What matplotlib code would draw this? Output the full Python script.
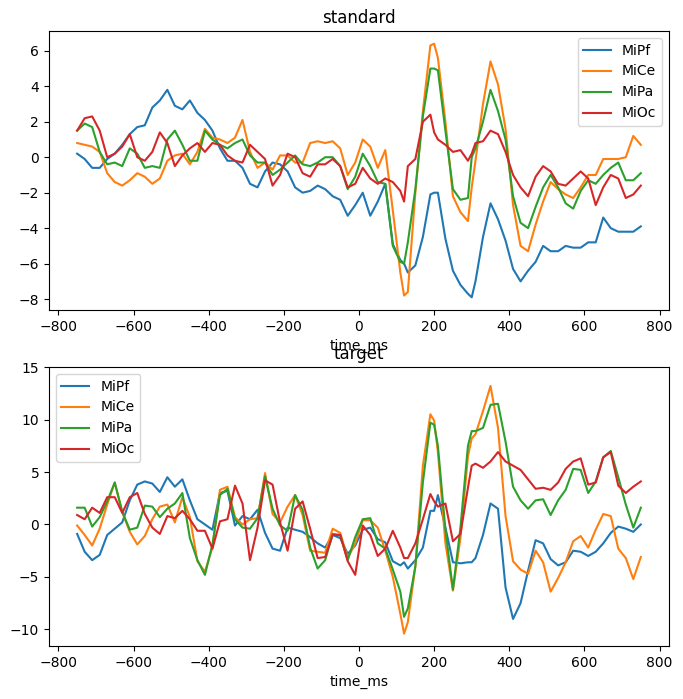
import matplotlib
matplotlib.use("Agg")
import matplotlib.pyplot as plt
import numpy as np

# sample times (ms), 20 ms steps plus a few extra samples near the big peaks
time_ms = sorted(list(range(-750, 751, 20)) + [120, 200, 300])

channels = ["MiPf", "MiCe", "MiPa", "MiOc"]

## standard condition
std_MiPf = [0.2, -0.1, -0.6, -0.6, -0.1, 0.2, 0.7, 1.3, 1.7, 1.8, 2.8, 3.2, 3.8, 2.9, 2.7, 3.2, 2.5, 2.1,
            1.5, 0.5, -0.2, -0.2, -0.6, -1.5, -1.7, -0.8, -0.3, -0.4, -0.8, -1.7, -2.0, -1.9, -1.6, -1.8, -2.2, -2.4, -3.3,
            -2.7, -2.0, -3.3, -2.5, -1.5, -4.9, -5.8, -6.0, -6.5, -6.1, -4.5, -2.1, -2.0, -2.0, -4.6, -6.4, -7.2, -7.7, -7.9, -7.0, -4.5,
            -2.6, -3.5, -4.7, -6.3, -7.0, -6.4, -5.9, -5.0, -5.3, -5.3, -5.0, -5.1, -5.1, -4.8, -4.8, -3.4, -4.0, -4.2, -4.2, -4.2, -3.9]
std_MiCe = [0.8, 0.7, 0.6, 0.3, -0.9, -1.4, -1.6, -1.3, -0.9, -1.1, -1.5, -1.2, -0.2, 0.1, 0.2, -0.4, 0.3, 1.6,
            1.1, 1.0, 0.8, 1.1, 2.1, 0.3, -0.6, -0.3, -0.7, 0.1, 0.1, -0.3, -0.3, 0.8, 0.9, 0.8, 0.9, 0.5, -1.0,
            -0.3, 1.0, 0.6, -0.6, 0.4, -3.0, -6.5, -7.8, -7.6, -2.0, 2.6, 6.3, 6.4, 5.6, 2.0, -2.2, -3.1, -3.6, -1.7, -0.2, 3.0,
            5.4, 4.1, 1.6, -2.7, -5.0, -5.3, -3.8, -2.5, -1.4, -1.8, -2.1, -2.3, -1.7, -1.0, -1.0, -0.1, -0.1, -0.1, 0.0, 1.2, 0.7]
std_MiPa = [1.5, 1.9, 1.7, 0.3, -0.4, -0.3, -0.5, 0.5, 0.2, -0.6, -0.5, -0.6, 1.0, 1.5, 0.7, -0.2, -0.2, 1.5,
            1.0, 0.7, 0.5, 0.8, 1.0, 0.1, -0.3, -0.3, -1.0, -0.7, -0.3, 0.1, -0.4, -0.5, -0.3, 0.0, 0.0, -0.5, -1.8,
            -1.1, 0.2, -0.5, -1.4, -1.5, -5.0, -5.9, -6.0, -4.8, -1.8, 2.3, 5.0, 5.0, 4.9, 1.5, -1.8, -2.4, -2.3, 0.0, 0.5, 2.0,
            3.8, 2.6, 1.0, -2.2, -3.7, -4.0, -2.8, -1.7, -1.0, -1.7, -2.6, -2.9, -1.9, -1.3, -1.5, -1.0, -0.6, -0.3, -1.3, -1.3, -0.9]
std_MiOc = [1.5, 2.2, 2.3, 1.5, 0.0, 0.2, 0.6, 1.3, 0.0, -0.2, 0.3, 1.4, 0.8, -0.5, 0.1, 0.5, 0.8, 0.3,
            0.8, 0.7, 0.1, -0.2, -0.3, 0.7, 0.3, -0.1, -1.6, -1.0, 0.2, 0.0, -0.9, -1.1, -0.4, -0.4, -0.1, -0.5, -1.7,
            -1.5, -0.6, -1.2, -1.5, -1.2, -1.4, -1.9, -2.5, -0.5, -0.1, 2.0, 2.4, 1.4, 1.0, 0.7, 0.3, 0.4, -0.2, 0.2, 0.8, 0.9,
            1.5, 1.3, 0.3, -1.0, -1.7, -2.2, -1.1, -0.5, -0.8, -1.5, -1.6, -1.2, -0.8, -1.2, -2.7, -1.7, -1.0, -1.2, -2.3, -2.1, -1.6]

## target condition
tgt_MiPf = [-0.9, -2.6, -3.4, -2.9, -1.0, -0.4, 0.2, 2.3, 3.8, 4.1, 3.9, 3.1, 4.5, 3.6, 4.3, 2.3, 0.5, 0.0,
            -0.5, 3.0, 3.2, -0.1, 0.8, 0.5, 1.4, -0.8, -2.3, -2.5, -0.3, -0.5, -0.7, -1.2, -1.8, -2.2, -1.0, -1.3, -2.8,
            -2.0, -0.5, -0.3, -1.4, -1.7, -3.5, -3.9, -3.6, -4.2, -3.4, -2.2, 1.3, 1.3, 2.8, -0.3, -3.6, -3.7, -3.6, -3.6, -3.2, -1.0,
            2.0, 1.5, -6.0, -9.0, -7.5, -4.4, -1.5, -1.8, -3.3, -3.9, -3.6, -2.5, -2.6, -3.0, -2.6, -1.8, -0.8, -0.2, -0.4, -0.7, 0.0]
tgt_MiCe = [-0.1, -1.0, -2.0, -0.4, 1.9, 4.0, 1.2, -0.7, -1.9, -1.1, 0.5, 1.7, 1.9, 0.2, 2.6, 0.7, -3.5, -4.5,
            -2.2, 3.3, 3.6, 0.7, 0.0, 0.5, 0.6, 4.9, 1.0, 0.2, 1.7, 2.8, 0.9, -2.5, -2.6, -2.7, -0.4, -0.8, -3.2,
            -1.8, 0.4, 0.4, -0.3, -2.5, -5.0, -8.5, -10.4, -9.3, -4.0, 5.6, 10.5, 9.9, 6.9, -1.8, -6.3, -1.3, 6.5, 8.2, 8.6, 10.8,
            13.2, 9.2, 0.8, -3.5, -4.3, -4.7, -2.5, -3.6, -6.4, -5.1, -3.6, -1.6, -1.1, -2.2, -0.5, 1.0, 0.8, -2.3, -3.2, -5.2, -3.1]
tgt_MiPa = [1.6, 1.6, -0.2, 0.7, 2.2, 4.0, 1.2, -0.5, -0.3, 1.8, 1.7, 0.7, 1.5, 2.0, 3.0, -1.3, -3.4, -4.8,
            -1.9, 2.8, 3.4, 0.5, -0.3, -0.4, 0.6, 4.6, 1.5, -0.1, -0.6, 2.8, 1.4, -2.2, -4.2, -3.4, -0.9, -1.0, -3.4,
            -1.2, 0.5, 0.6, -1.8, -2.3, -4.3, -6.4, -8.8, -8.0, -4.0, 4.0, 9.7, 9.5, 7.5, -0.5, -6.2, -0.3, 7.5, 8.9, 8.9, 9.2,
            11.4, 11.5, 7.9, 3.6, 2.3, 1.5, 2.3, 2.4, 0.9, 2.3, 3.3, 5.3, 5.2, 3.0, 4.1, 6.4, 7.0, 4.5, 1.9, -0.3, 1.6]
tgt_MiOc = [0.9, 0.5, 1.6, 1.1, 2.6, 2.6, 1.1, 2.6, 3.0, 1.0, -0.3, -0.9, 0.8, 0.6, 1.3, 0.5, -0.6, -0.6,
            -2.3, 0.3, 0.5, 3.7, 2.0, -3.4, -0.3, 4.2, 3.8, 0.2, -2.5, 1.5, 2.2, -0.4, -3.2, -3.1, -1.0, -1.0, -3.5,
            -4.8, -0.1, -1.0, -3.0, -2.3, -0.6, -2.2, -3.2, -3.2, -1.8, 0.5, 2.9, 2.2, 1.7, 2.0, -1.6, -0.9, 3.5, 5.6, 5.8, 5.4,
            6.0, 6.9, 6.0, 5.6, 5.2, 4.3, 3.4, 3.5, 3.3, 4.0, 5.3, 6.0, 6.3, 3.8, 4.0, 6.4, 6.9, 3.7, 3.0, 3.6, 4.1]

standard = [std_MiPf, std_MiCe, std_MiPa, std_MiOc]
target = [tgt_MiPf, tgt_MiCe, tgt_MiPa, tgt_MiOc]

fig = plt.figure(figsize=(6.83, 6.99), dpi=100)
ax1 = fig.add_axes([0.0717, 0.5565, 0.9078, 0.3991])
ax2 = fig.add_axes([0.0717, 0.0758, 0.9078, 0.3991])

for ax, title, data, loc in [(ax1, "standard", standard, "upper right"),
                             (ax2, "target", target, "upper left")]:
    t = np.array(time_ms)
    for name, vals in zip(channels, data):
        assert len(vals) == len(t), (title, name, len(vals))
        ax.plot(t, np.array(vals), label=name)
    ax.set_title(title)
    ax.set_xlabel("time_ms")
    ax.set_xticks(range(-800, 801, 200))
    ax.legend(loc=loc)

ax1.set_yticks(range(-8, 7, 2))
ax2.set_yticks([-10, -5, 0, 5, 10, 15])

fig.savefig("out.png", dpi=100)
